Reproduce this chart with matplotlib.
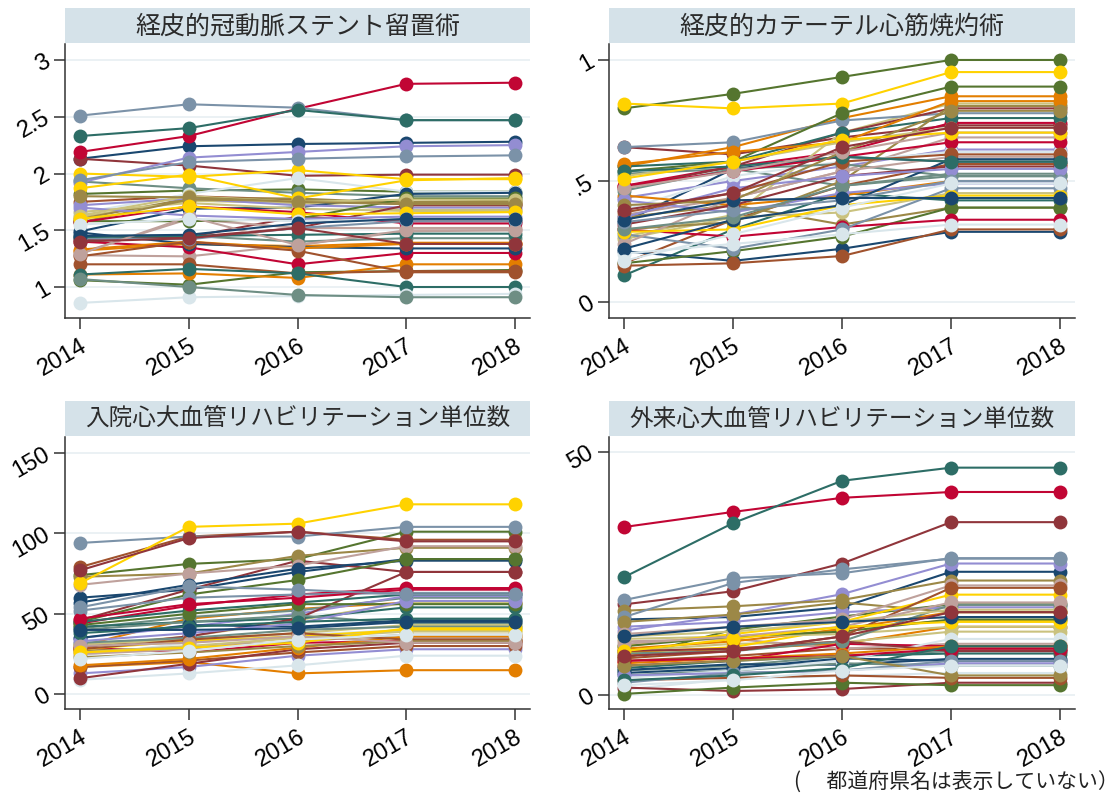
import matplotlib.pyplot as plt

plt.rcParams['font.family'] = ['Liberation Sans', 'Noto Sans CJK JP', 'DejaVu Sans']

years = [2014, 2015, 2016, 2017, 2018]

# Stata s2color series colours, cycled over the 47 prefectures
palette = ['#1a476f', '#90353b', '#55752f', '#e37e00', '#6e8e84', '#c10534',
           '#938dd2', '#cac27e', '#a0522d', '#7b92a8', '#2d6d66', '#9c8847',
           '#bfa19c', '#ffd200', '#d9e6eb']

# 経皮的冠動脈ステント留置術 (per prefecture, 2014-2018)
pci = [
    [2.13, 2.24, 2.26, 2.27, 2.28], [2.13, 2.07, 1.98, 1.99, 1.99],
    [1.82, 1.85, 1.86, 1.84, 1.84], [1.32, 1.38, 1.36, 1.39, 1.39],
    [1.93, 1.87, 1.83, 1.80, 1.80], [2.19, 2.33, 2.57, 2.79, 2.80],
    [1.92, 2.14, 2.19, 2.24, 2.25], [1.62, 1.76, 1.74, 1.68, 1.68],
    [1.75, 1.80, 1.77, 1.73, 1.73], [2.51, 2.61, 2.58, 2.47, 2.47],
    [2.33, 2.40, 2.56, 2.47, 2.47], [1.60, 1.78, 1.78, 1.74, 1.75],
    [1.28, 1.27, 1.37, 1.49, 1.50], [2.00, 1.97, 2.03, 1.95, 1.95],
    [1.65, 1.82, 1.96, 1.84, 1.84], [1.49, 1.69, 1.70, 1.82, 1.83],
    [1.41, 1.44, 1.62, 1.58, 1.58], [1.06, 1.02, 1.13, 1.14, 1.15],
    [1.11, 1.12, 1.08, 1.20, 1.20], [1.45, 1.45, 1.40, 1.43, 1.43],
    [1.40, 1.35, 1.20, 1.30, 1.30], [1.72, 1.78, 1.72, 1.70, 1.70],
    [1.66, 1.74, 1.69, 1.67, 1.67], [1.20, 1.20, 1.12, 1.14, 1.14],
    [1.94, 2.10, 2.13, 2.15, 2.16], [1.11, 1.16, 1.12, 1.00, 1.00],
    [1.57, 1.77, 1.76, 1.75, 1.76], [1.30, 1.60, 1.52, 1.52, 1.52],
    [1.87, 1.99, 1.78, 1.94, 1.96], [0.86, 0.91, 0.92, 0.93, 0.94],
    [1.48, 1.38, 1.35, 1.34, 1.34], [1.42, 1.44, 1.52, 1.72, 1.72],
    [1.58, 1.58, 1.60, 1.78, 1.78], [1.33, 1.40, 1.34, 1.38, 1.38],
    [1.07, 1.00, 0.93, 0.91, 0.91], [1.57, 1.71, 1.66, 1.56, 1.56],
    [1.70, 1.63, 1.60, 1.62, 1.62], [1.63, 1.80, 1.75, 1.77, 1.77],
    [1.27, 1.40, 1.32, 1.13, 1.13], [1.43, 1.42, 1.52, 1.58, 1.58],
    [1.44, 1.45, 1.46, 1.47, 1.47], [1.80, 1.79, 1.75, 1.73, 1.73],
    [1.29, 1.62, 1.37, 1.50, 1.50], [1.60, 1.71, 1.64, 1.65, 1.66],
    [1.55, 1.60, 1.58, 1.60, 1.60], [1.45, 1.46, 1.56, 1.60, 1.60],
    [1.40, 1.43, 1.52, 1.38, 1.38],
]

# 経皮的カテーテル心筋焼灼術
ablation = [
    [0.33, 0.55, 0.60, 0.58, 0.58], [0.64, 0.61, 0.68, 0.73, 0.73],
    [0.80, 0.86, 0.93, 1.00, 1.00], [0.56, 0.64, 0.76, 0.85, 0.85],
    [0.53, 0.55, 0.48, 0.52, 0.52], [0.48, 0.56, 0.62, 0.74, 0.74],
    [0.43, 0.50, 0.56, 0.63, 0.63], [0.27, 0.36, 0.70, 0.82, 0.82],
    [0.16, 0.34, 0.48, 0.57, 0.57], [0.64, 0.66, 0.75, 0.78, 0.78],
    [0.11, 0.30, 0.45, 0.42, 0.42], [0.35, 0.40, 0.32, 0.39, 0.39],
    [0.36, 0.43, 0.54, 0.68, 0.68], [0.82, 0.80, 0.82, 0.95, 0.95],
    [0.38, 0.52, 0.58, 0.62, 0.62], [0.21, 0.17, 0.22, 0.29, 0.29],
    [0.47, 0.56, 0.70, 0.80, 0.80], [0.16, 0.21, 0.27, 0.39, 0.39],
    [0.44, 0.40, 0.44, 0.50, 0.50], [0.46, 0.55, 0.57, 0.52, 0.52],
    [0.30, 0.27, 0.31, 0.34, 0.34], [0.42, 0.37, 0.45, 0.49, 0.49],
    [0.26, 0.35, 0.37, 0.45, 0.45], [0.15, 0.16, 0.19, 0.30, 0.30],
    [0.28, 0.22, 0.30, 0.47, 0.47], [0.56, 0.58, 0.70, 0.76, 0.76],
    [0.30, 0.33, 0.50, 0.81, 0.81], [0.24, 0.43, 0.54, 0.60, 0.60],
    [0.29, 0.30, 0.40, 0.44, 0.44], [0.20, 0.24, 0.28, 0.32, 0.32],
    [0.22, 0.34, 0.40, 0.59, 0.59], [0.32, 0.40, 0.52, 0.56, 0.56],
    [0.54, 0.58, 0.78, 0.89, 0.89], [0.57, 0.62, 0.66, 0.83, 0.83],
    [0.30, 0.35, 0.48, 0.53, 0.53], [0.48, 0.54, 0.60, 0.66, 0.66],
    [0.35, 0.47, 0.52, 0.55, 0.55], [0.52, 0.58, 0.66, 0.72, 0.72],
    [0.37, 0.45, 0.58, 0.61, 0.61], [0.33, 0.38, 0.42, 0.50, 0.50],
    [0.54, 0.56, 0.60, 0.58, 0.58], [0.40, 0.42, 0.62, 0.79, 0.79],
    [0.47, 0.54, 0.62, 0.70, 0.70], [0.51, 0.58, 0.67, 0.70, 0.70],
    [0.17, 0.28, 0.39, 0.49, 0.49], [0.34, 0.42, 0.43, 0.43, 0.43],
    [0.38, 0.45, 0.64, 0.72, 0.72],
]

# 入院心大血管リハビリテーション単位数
rehab_in = [
    [60, 65, 76, 84, 84], [46, 65, 83, 76, 76], [74, 81, 84, 101, 101],
    [30, 47, 53, 57, 57], [41, 48, 52, 60, 60], [44, 55, 62, 66, 66],
    [35, 42, 50, 61, 61], [30, 36, 46, 57, 57], [79, 98, 101, 96, 96],
    [94, 98, 98, 104, 104], [42, 45, 47, 54, 54], [73, 75, 86, 91, 91],
    [68, 75, 80, 92, 92], [69, 104, 106, 118, 118], [24, 32, 37, 40, 40],
    [57, 68, 78, 83, 83], [29, 36, 47, 76, 76], [45, 62, 71, 84, 84],
    [17, 20, 13, 15, 15], [40, 45, 49, 44, 44], [29, 26, 32, 33, 33],
    [13, 17, 24, 28, 28], [31, 34, 38, 43, 43], [17, 21, 26, 30, 30],
    [52, 60, 62, 63, 63], [45, 52, 57, 62, 62], [27, 29, 33, 37, 37],
    [25, 28, 36, 35, 35], [28, 33, 36, 40, 40], [9, 13, 18, 24, 24],
    [35, 43, 42, 46, 46], [10, 19, 28, 32, 32], [43, 50, 56, 56, 56],
    [18, 22, 29, 36, 36], [32, 35, 40, 42, 42], [47, 56, 60, 65, 65],
    [33, 38, 44, 58, 58], [26, 30, 35, 39, 39], [28, 34, 38, 34, 34],
    [54, 67, 65, 62, 62], [38, 42, 45, 47, 47], [23, 26, 30, 33, 33],
    [30, 32, 36, 32, 32], [26, 29, 32, 41, 41], [22, 27, 34, 37, 37],
    [40, 40, 41, 45, 45], [77, 97, 101, 95, 95],
]

# 外来心大血管リハビリテーション単位数
rehab_out = [
    [15.5, 16.0, 18.0, 25.3, 25.3], [18.6, 21.3, 27.0, 35.5, 35.5],
    [7.5, 13.4, 16.1, 18.6, 18.6], [8.0, 9.5, 10.5, 14.0, 14.0],
    [5.0, 6.0, 8.0, 9.0, 9.0], [34.5, 37.6, 40.5, 41.7, 41.7],
    [13.2, 16.5, 20.7, 27.0, 27.0], [9.0, 10.5, 10.8, 13.0, 13.0],
    [7.0, 8.0, 9.5, 9.5, 9.5], [19.5, 24.0, 25.0, 28.1, 28.1],
    [24.2, 35.3, 44.0, 46.7, 46.7], [17.3, 18.2, 19.5, 23.5, 23.5],
    [11.0, 11.5, 9.5, 10.5, 10.5], [8.7, 9.8, 13.7, 15.3, 15.3],
    [1.1, 3.3, 3.9, 4.5, 4.5], [5.1, 6.3, 6.2, 7.4, 7.4],
    [1.5, 0.8, 1.2, 2.5, 2.5], [0.2, 1.5, 2.5, 2.0, 2.0],
    [9.5, 11.0, 13.5, 17.0, 17.0], [4.0, 5.0, 6.5, 6.0, 6.0],
    [6.0, 7.0, 10.5, 10.0, 10.0], [14.0, 15.0, 17.0, 18.0, 18.0],
    [11.5, 12.0, 12.5, 14.0, 14.0], [3.0, 3.5, 4.0, 3.5, 3.5],
    [16.0, 23.0, 25.8, 28.0, 28.0], [5.5, 7.0, 8.0, 8.5, 8.5],
    [15.0, 16.5, 19.0, 17.0, 17.0], [12.5, 14.0, 15.5, 22.5, 22.5],
    [10.0, 12.5, 15.0, 20.6, 20.6], [3.5, 5.0, 7.0, 11.5, 11.5],
    [4.5, 5.5, 7.5, 7.0, 7.0], [9.0, 9.5, 11.0, 9.0, 9.0],
    [10.0, 12.0, 13.0, 15.5, 15.5], [6.5, 7.5, 8.5, 10.0, 10.0],
    [8.5, 9.0, 11.0, 18.5, 18.5], [7.0, 7.5, 8.0, 9.5, 9.5],
    [4.0, 4.5, 5.0, 6.5, 6.5], [12.0, 13.0, 15.0, 17.5, 17.5],
    [7.5, 9.0, 12.0, 22.0, 22.0], [2.5, 4.5, 5.0, 7.0, 7.0],
    [3.0, 4.0, 5.5, 10.0, 10.0], [6.0, 7.0, 8.0, 4.0, 4.0],
    [10.5, 12.0, 14.0, 19.0, 19.0], [9.0, 11.5, 14.0, 15.0, 15.0],
    [2.0, 3.0, 5.0, 6.0, 6.0], [12.0, 14.0, 15.0, 16.0, 16.0],
    [8.0, 9.0, 12.0, 17.0, 17.0],
]

titles = ['経皮的冠動脈ステント留置術', '経皮的カテーテル心筋焼灼術',
          '入院心大血管リハビリテーション単位数', '外来心大血管リハビリテーション単位数']
title_sizes = [18, 18, 17, 17]
yticks = [[1, 1.5, 2, 2.5, 3], [0, 0.5, 1], [0, 50, 100, 150], [0, 50]]
yticklabels = [['1', '1.5', '2', '2.5', '3'], ['0', '.5', '1'],
               ['0', '50', '100', '150'], ['0', '50']]
ylims = [(0.727, 3.141), (-0.066, 1.066), (-9.1, 159.8), (-2.9, 53.0)]
panels = [pci, ablation, rehab_in, rehab_out]

W, H = 1120, 795
fig = plt.figure(figsize=(W / 100, H / 100), dpi=100)
fig.patch.set_facecolor('white')


def rect(x0, y0, x1, y1):
    # pixel box -> figure fraction
    return [x0 / W, 1 - y1 / H, (x1 - x0) / W, (y1 - y0) / H]


# (left, right, band top, plot top, plot bottom) in pixels
boxes = [(65, 530, 8, 44, 318), (609, 1075, 8, 44, 318),
         (65, 530, 401, 437, 709), (609, 1075, 401, 437, 709)]

for k, (x0, x1, yb, yt, yb2) in enumerate(boxes):
    band = fig.add_axes(rect(x0, yb, x1, yt - 1))
    band.set_facecolor('#d5e2e9')
    band.set_xticks([])
    band.set_yticks([])
    for s in band.spines.values():
        s.set_visible(False)
    band.text(0.5, 0.47, titles[k], ha='center', va='center',
              fontsize=title_sizes[k], color='#2b2b2b',
              family=['Noto Sans CJK JP'], transform=band.transAxes)

    ax = fig.add_axes(rect(x0, yt, x1, yb2))
    for i, row in enumerate(panels[k]):
        c = palette[i % len(palette)]
        ax.plot(years, row, color=c, lw=1.5, marker='o', ms=10,
                markeredgewidth=0, solid_capstyle='round', clip_on=False)

    ax.set_xlim(2013.862, 2018.138)
    ax.set_ylim(*ylims[k])
    ax.set_xticks(years)
    ax.set_xticklabels([str(y) for y in years], rotation=30, ha='right',
                       va='top', rotation_mode='anchor', fontsize=17)
    ax.set_yticks(yticks[k])
    ax.set_yticklabels(yticklabels[k], rotation=30, ha='right', va='center',
                       rotation_mode='anchor', fontsize=17)
    ax.tick_params(axis='both', direction='out', length=8, width=1.1,
                   color='#333333', pad=4)
    ax.yaxis.grid(True, color='#e9f0f3', lw=1.3)
    ax.set_axisbelow(True)
    for side in ('top', 'right'):
        ax.spines[side].set_visible(False)
    for side in ('left', 'bottom'):
        ax.spines[side].set_color('#333333')
        ax.spines[side].set_linewidth(1.1)

fig.text(1119 / W, 1 - 783 / H, '(　 都道府県名は表示していない）', ha='right',
         va='center', fontsize=15, color='#222222',
         family=['Noto Sans CJK JP', 'DejaVu Sans'])

fig.savefig('out.png', dpi=100, facecolor='white')
